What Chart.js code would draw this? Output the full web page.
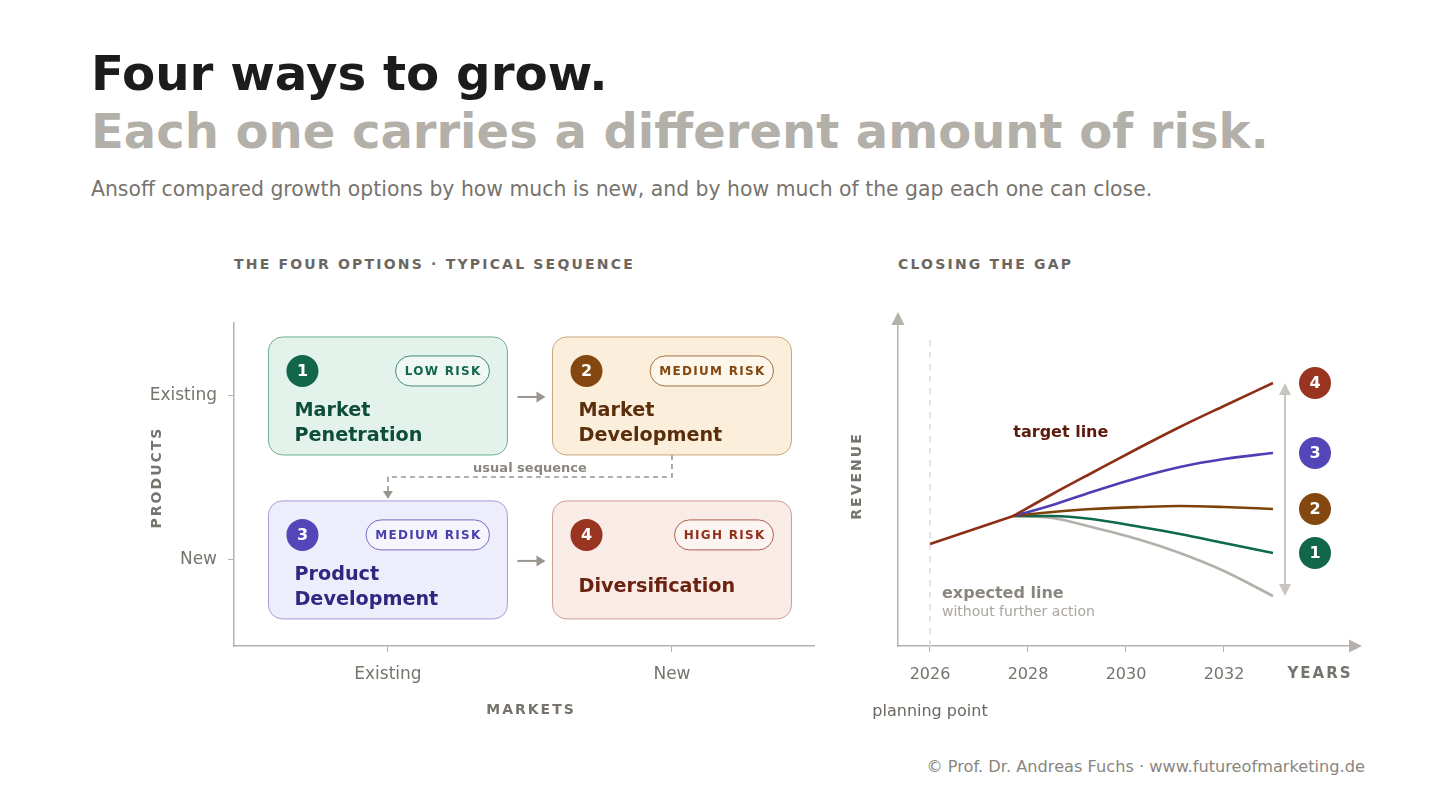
<!DOCTYPE html>
<html>
<head>
<meta charset="utf-8">
<script src="https://cdn.jsdelivr.net/npm/chart.js@4.4.0/dist/chart.umd.min.js"></script>
<style>
html, body { margin: 0; padding: 0; background: #fff; }
body { width: 1456px; height: 808px; position: relative; overflow: hidden; font-family: "DejaVu Sans", sans-serif; }
.t { position: absolute; white-space: nowrap; line-height: 1; }
#h1 { left: 91px; top: 49px; font-size: 48.3px; font-weight: bold; color: #1c1c1c; }
#h2 { left: 91px; top: 107px; font-size: 48px; font-weight: bold; color: #b3afa9; }
#sub { left: 91px; top: 179px; font-size: 20.4px; color: #77736d; }
.sec { top: 257px; font-size: 14px; font-weight: bold; color: #6b6760; letter-spacing: 2.2px; }
#foot { right: 91px; top: 759px; font-size: 16.2px; color: #8a867f; }
canvas { position: absolute; }
#matrix { left: 120px; top: 300px; }
#gap { left: 840px; top: 290px; }
</style>
</head>
<body>
<div class="t" id="h1">Four ways to grow.</div>
<div class="t" id="h2">Each one carries a different amount of risk.</div>
<div class="t" id="sub">Ansoff compared growth options by how much is new, and by how much of the gap each one can close.</div>
<div class="t sec" style="left:234px">THE FOUR OPTIONS · TYPICAL SEQUENCE</div>
<div class="t sec" style="left:898px">CLOSING THE GAP</div>
<canvas id="matrix" width="720" height="440"></canvas>
<canvas id="gap" width="540" height="440"></canvas>
<div class="t" id="foot">© Prof. Dr. Andreas Fuchs · www.futureofmarketing.de</div>

<script>
// --- matrix data
const markets = ['Existing', 'New'];
const products = ['Existing', 'New'];
const optionNames = [['Market', 'Penetration'], ['Market', 'Development'], ['Product', 'Development'], ['Diversification']];
const optionRisk = ['LOW RISK', 'MEDIUM RISK', 'MEDIUM RISK', 'HIGH RISK'];
const optionMarket = [0, 1, 0, 1];
const optionProduct = [0, 0, 1, 1];
const sequenceLabel = 'usual sequence';

// --- gap chart data (index 1 = point where the options branch off)
const years = [2026, 2027.7, 2028.5, 2029.3, 2030.3, 2031.1, 2032, 2033];
const yearTicks = [2026, 2028, 2030, 2032];
const targetLine = [10.2, 13.0, 15.2, 17.3, 19.9, 21.9, 24.0, 26.3];
const productDev = [10.2, 13.0, 14.1, 15.4, 16.9, 17.9, 18.7, 19.3];
const marketDev = [10.2, 13.0, 13.4, 13.7, 13.9, 14.0, 13.9, 13.7];
const marketPen = [10.2, 13.0, 13.0, 12.7, 11.9, 11.2, 10.3, 9.3];
const expectedLine = [10.2, 13.0, 12.8, 11.9, 10.6, 9.3, 7.5, 5.0];

const FONT = '"DejaVu Sans", sans-serif';
const AXIS = '#b5b1ab';
const tones = [
  { fill: '#e3f3ec', line: '#6fae93', badge: '#12664c', text: '#0e4d3a', pill: '#12664c' },
  { fill: '#fbeedb', line: '#c9a67d', badge: '#84470f', text: '#5a2e0a', pill: '#84470f' },
  { fill: '#eeedfb', line: '#a29cd9', badge: '#5246b8', text: '#302880', pill: '#4a3fae' },
  { fill: '#f9ebe6', line: '#cc9f93', badge: '#993420', text: '#6b2210', pill: '#93301c' }
];

function arrowHead(ctx, tx, ty, dx, dy, len, half) {
  const bx = tx - dx * len, by = ty - dy * len;
  ctx.beginPath();
  ctx.moveTo(tx, ty);
  ctx.lineTo(bx - dy * half, by + dx * half);
  ctx.lineTo(bx + dy * half, by - dx * half);
  ctx.closePath();
  ctx.fill();
}

function spaced(ctx, text, x, y, sp, align) {
  ctx.letterSpacing = sp + 'px';
  ctx.textAlign = align || 'left';
  ctx.fillText(text, align === 'center' ? x + sp / 2 : x, y);
  ctx.letterSpacing = '0px';
}

function badge(ctx, x, y, r, color, label) {
  ctx.fillStyle = color;
  ctx.beginPath();
  ctx.arc(x, y, r, 0, Math.PI * 2);
  ctx.fill();
  ctx.fillStyle = '#fff';
  ctx.font = 'bold 16px ' + FONT;
  ctx.textAlign = 'center';
  ctx.textBaseline = 'middle';
  ctx.fillText(label, x, y + 1);
}

const matrixBoxes = {
  id: 'matrixBoxes',
  afterDatasetsDraw(chart) {
    const { ctx, scales: { x, y } } = chart;
    const W = 239, H = 118;
    const boxes = chart.data.datasets[0].data.map(p => {
      const cx = x.getPixelForValue(p.x), cy = y.getPixelForValue(p.y);
      return { cx, cy, l: cx - W / 2, t: cy - H / 2 };
    });
    ctx.save();

    // solid arrows along each product row
    ctx.strokeStyle = '#9a968f';
    ctx.fillStyle = '#9a968f';
    ctx.lineWidth = 2;
    [[0, 1], [2, 3]].forEach(([a, b]) => {
      const x0 = boxes[a].l + W + 10, x1 = boxes[b].l - 7, yy = boxes[a].cy + 1;
      ctx.beginPath();
      ctx.moveTo(x0, yy);
      ctx.lineTo(x1 - 6, yy);
      ctx.stroke();
      arrowHead(ctx, x1, yy, 1, 0, 9, 5.5);
    });

    // dashed "usual sequence" path 2 -> 3
    const b2 = boxes[1], b3 = boxes[2];
    const midY = b2.t + H + 22;
    ctx.setLineDash([5, 4]);
    ctx.lineWidth = 1.6;
    ctx.beginPath();
    ctx.moveTo(b2.cx, b2.t + H);
    ctx.lineTo(b2.cx, midY);
    ctx.lineTo(b3.cx, midY);
    ctx.lineTo(b3.cx, b3.t - 8);
    ctx.stroke();
    ctx.setLineDash([]);
    arrowHead(ctx, b3.cx, b3.t - 2, 0, 1, 8, 5);
    ctx.fillStyle = '#8a867f';
    ctx.font = 'bold 13px ' + FONT;
    ctx.textAlign = 'center';
    ctx.textBaseline = 'middle';
    ctx.fillText(sequenceLabel, (b2.cx + b3.cx) / 2, midY - 8);

    boxes.forEach((b, i) => {
      const tone = tones[i];
      ctx.beginPath();
      ctx.roundRect(b.l, b.t, W, H, 14);
      ctx.fillStyle = tone.fill;
      ctx.fill();
      ctx.strokeStyle = tone.line;
      ctx.lineWidth = 1;
      ctx.stroke();

      badge(ctx, b.l + 34, b.t + 34, 16, tone.badge, String(i + 1));

      // risk pill
      ctx.font = 'bold 12px ' + FONT;
      ctx.letterSpacing = '1.3px';
      const tw = ctx.measureText(optionRisk[i]).width;
      ctx.letterSpacing = '0px';
      const pw = tw + 17, pr = b.l + W - 18, pt = b.t + 19;
      ctx.beginPath();
      ctx.roundRect(pr - pw, pt, pw, 30, 15);
      ctx.fillStyle = 'rgba(255,255,255,0.45)';
      ctx.fill();
      ctx.strokeStyle = tone.pill;
      ctx.globalAlpha = 0.75;
      ctx.stroke();
      ctx.globalAlpha = 1;
      ctx.fillStyle = tone.pill;
      ctx.textBaseline = 'middle';
      spaced(ctx, optionRisk[i], pr - pw / 2, pt + 15.5, 1.3, 'center');

      // title
      ctx.fillStyle = tone.text;
      ctx.font = 'bold 19.2px ' + FONT;
      ctx.textAlign = 'left';
      ctx.textBaseline = 'middle';
      const lines = optionNames[i];
      const ys = lines.length === 2 ? [74, 99] : [86];
      lines.forEach((ln, k) => ctx.fillText(ln, b.l + 26, b.t + ys[k]));
    });

    ctx.restore();
  },
  afterDraw(chart) {
    const { ctx, chartArea: a } = chart;
    ctx.save();
    ctx.fillStyle = '#77736d';
    ctx.font = 'bold 14px ' + FONT;
    ctx.textBaseline = 'middle';
    spaced(ctx, 'MARKETS', (a.left + a.right) / 2 + 6, a.bottom + 64, 2, 'center');
    ctx.translate(a.left - 77, (a.top + a.bottom) / 2 - 6);
    ctx.rotate(-Math.PI / 2);
    spaced(ctx, 'PRODUCTS', 0, 0, 2, 'center');
    ctx.restore();
  }
};

new Chart(document.getElementById('matrix'), {
  type: 'scatter',
  data: {
    datasets: [{
      data: optionMarket.map((m, i) => ({ x: m, y: optionProduct[i] })),
      pointRadius: 0
    }]
  },
  options: {
    responsive: false,
    animation: false,
    events: [],
    layout: { padding: { top: 23, right: 26, left: 0, bottom: 0 } },
    plugins: { legend: { display: false }, tooltip: { enabled: false } },
    scales: {
      x: {
        type: 'linear', min: -0.542, max: 1.5,
        afterBuildTicks: s => { s.ticks = markets.map((_, i) => ({ value: i })); },
        afterFit: s => { s.height = 94; },
        ticks: { callback: v => markets[v], color: '#77736d', font: { family: FONT, size: 17 }, padding: 12 },
        grid: { drawOnChartArea: false, tickLength: 6, color: AXIS, tickColor: AXIS },
        border: { color: AXIS, width: 1.5 }
      },
      y: {
        type: 'linear', reverse: true, min: -0.445, max: 1.525,
        afterBuildTicks: s => { s.ticks = products.map((_, i) => ({ value: i })); },
        afterFit: s => { s.width = 114; },
        ticks: { callback: v => products[v], color: '#77736d', font: { family: FONT, size: 17 }, padding: 11 },
        grid: { drawOnChartArea: false, tickLength: 6, color: AXIS, tickColor: AXIS },
        border: { color: AXIS, width: 1.5 }
      }
    }
  },
  plugins: [matrixBoxes]
});

// --- gap chart
const toPts = arr => years.map((yr, i) => ({ x: yr, y: arr[i] }));
const branch = (arr, color) => ({
  data: toPts(arr).slice(1), borderColor: color, borderWidth: 2.6, pointRadius: 0,
  cubicInterpolationMode: 'monotone', fill: false
});
// shared stretch up to the branching point, drawn once as a straight segment
const trunk = {
  data: toPts(targetLine).slice(0, 2), borderColor: '#8c2f16', borderWidth: 2.6,
  pointRadius: 0, tension: 0, fill: false
};

const gapDecor = {
  id: 'gapDecor',
  beforeDatasetsDraw(chart) {
    const { ctx, chartArea: a, scales: { x } } = chart;
    const px = x.getPixelForValue(years[0]);
    ctx.save();
    ctx.strokeStyle = '#dedbd6';
    ctx.lineWidth = 1.5;
    ctx.setLineDash([6, 6]);
    ctx.beginPath();
    ctx.moveTo(px, a.top + 16);
    ctx.lineTo(px, a.bottom);
    ctx.stroke();
    ctx.restore();
  },
  afterDatasetsDraw(chart) {
    const { ctx, scales: { x, y } } = chart;
    const last = years.length - 1;
    const ex = x.getPixelForValue(years[last]);
    ctx.save();

    // gap double arrow
    const yTop = y.getPixelForValue(targetLine[last]);
    const yBot = y.getPixelForValue(expectedLine[last]);
    const gx = ex + 12;
    ctx.strokeStyle = '#c9c6c1';
    ctx.fillStyle = '#c9c6c1';
    ctx.lineWidth = 2;
    ctx.beginPath();
    ctx.moveTo(gx, yTop + 8);
    ctx.lineTo(gx, yBot - 8);
    ctx.stroke();
    arrowHead(ctx, gx, yTop, 0, -1, 12, 6);
    arrowHead(ctx, gx, yBot, 0, 1, 12, 6);

    // badges
    [[marketPen, '1', '#12664c'], [marketDev, '2', '#84470f'], [productDev, '3', '#5246b8'], [targetLine, '4', '#993420']]
      .forEach(([arr, lab, col]) => badge(ctx, ex + 42, y.getPixelForValue(arr[last]), 16, col, lab));

    // line labels
    ctx.textAlign = 'left';
    ctx.textBaseline = 'middle';
    ctx.fillStyle = '#5c1a0c';
    ctx.font = 'bold 16px ' + FONT;
    ctx.fillText('target line', x.getPixelForValue(years[1]), y.getPixelForValue(21.3));
    ctx.fillStyle = '#8a867f';
    ctx.fillText('expected line', x.getPixelForValue(2026.245), y.getPixelForValue(5.2));
    ctx.fillStyle = '#a9a59f';
    ctx.font = '14px ' + FONT;
    ctx.fillText('without further action', x.getPixelForValue(2026.245), y.getPixelForValue(3.4));
    ctx.restore();
  },
  afterDraw(chart) {
    const { ctx, chartArea: a, scales: { x } } = chart;
    ctx.save();
    ctx.fillStyle = AXIS;
    arrowHead(ctx, a.right + 11, a.bottom, 1, 0, 13, 6.5);
    arrowHead(ctx, a.left, a.top - 12, 0, -1, 13, 6.5);

    ctx.fillStyle = '#77736d';
    ctx.textBaseline = 'middle';
    ctx.font = 'bold 15px ' + FONT;
    spaced(ctx, 'YEARS', a.right - 32, a.bottom + 28, 2, 'center');
    ctx.font = 'bold 14px ' + FONT;
    ctx.save();
    ctx.translate(a.left - 41, (a.top + a.bottom) / 2 - 8);
    ctx.rotate(-Math.PI / 2);
    spaced(ctx, 'REVENUE', 0, 0, 2, 'center');
    ctx.restore();
    ctx.fillStyle = '#6b6760';
    ctx.font = '16px ' + FONT;
    ctx.textAlign = 'center';
    ctx.fillText('planning point', x.getPixelForValue(years[0]), a.bottom + 66);
    ctx.restore();
  }
};

new Chart(document.getElementById('gap'), {
  type: 'line',
  data: {
    datasets: [
      trunk,
      branch(targetLine, '#8c2f16'),
      branch(productDev, '#4e3db3'),
      branch(marketDev, '#7b4209'),
      branch(marketPen, '#0e6a4c'),
      branch(expectedLine, '#b3afa9')
    ]
  },
  options: {
    responsive: false,
    animation: false,
    events: [],
    layout: { padding: { top: 34, right: 29, left: 0, bottom: 0 } },
    plugins: { legend: { display: false }, tooltip: { enabled: false } },
    scales: {
      x: {
        type: 'linear', min: 2025.347, max: 2034.592,
        afterBuildTicks: s => { s.ticks = yearTicks.map(v => ({ value: v })); },
        afterFit: s => { s.height = 84; },
        ticks: { callback: v => String(v), color: '#77736d', font: { family: FONT, size: 16 }, padding: 13, maxRotation: 0 },
        grid: { drawOnChartArea: false, tickLength: 6, color: AXIS, tickColor: AXIS },
        border: { color: AXIS, width: 1.5 }
      },
      y: {
        type: 'linear', min: 0, max: 32.2,
        afterFit: s => { s.width = 58; },
        ticks: { display: false },
        grid: { drawOnChartArea: false, drawTicks: false },
        border: { color: AXIS, width: 1.5 }
      }
    }
  },
  plugins: [gapDecor]
});
</script>
</body>
</html>
